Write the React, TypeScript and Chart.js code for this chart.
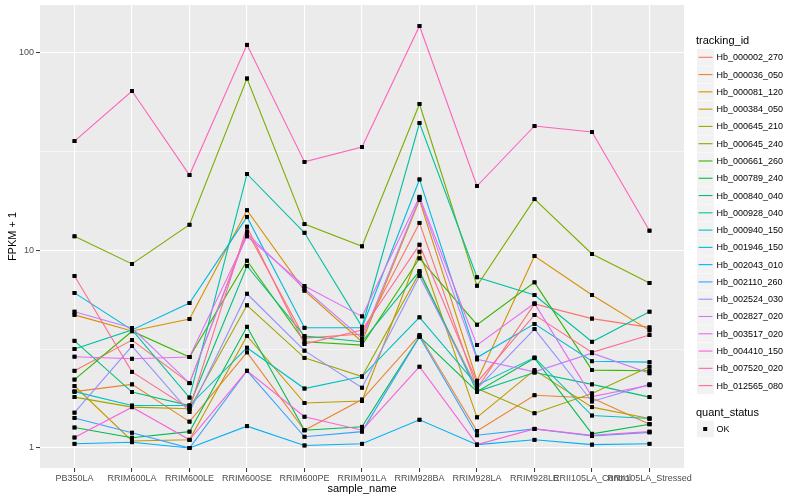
import React, { useEffect, useRef } from "react";
import { Chart, registerables } from "chart.js";
Chart.register(...registerables);

const categories = [
  "PB350LA", "RRIM600LA", "RRIM600LE", "RRIM600SE", "RRIM600PE", "RRIM901LA",
  "RRIM928BA", "RRIM928LA", "RRIM928LE", "RRII105LA_Control", "RRII105LA_Stressed",
];

const seriesNames = [
  "Hb_000002_270", "Hb_000036_050", "Hb_000081_120", "Hb_000384_050", "Hb_000645_210",
  "Hb_000645_240", "Hb_000661_260", "Hb_000789_240", "Hb_000840_040", "Hb_000928_040",
  "Hb_000940_150", "Hb_001946_150", "Hb_002043_010", "Hb_002110_260", "Hb_002524_030",
  "Hb_002827_020", "Hb_003517_020", "Hb_004410_150", "Hb_007520_020", "Hb_012565_080",
];

const seriesColors = [
  "#F8766D", "#EA8331", "#D89000", "#C09B00", "#A3A500",
  "#7CAE00", "#39B600", "#00BB4E", "#00BF7D", "#00C1A3",
  "#00BFC4", "#00BAE0", "#00B0F6", "#35A2FF", "#9590FF",
  "#C77CFF", "#E76BF3", "#FA62DB", "#FF62BC", "#FF6C91",
];

const hb000002_270 = [2.46, 3.52, 2.13, 12.5, 3.6, 3.78, 13.8, 2.0, 5.36, 4.52, 4.08];
const hb000036_050 = [1.93, 2.1, 1.36, 3.05, 1.23, 1.76, 3.73, 1.22, 1.85, 1.79, 1.32];
const hb000081_120 = [4.72, 3.91, 4.5, 16.0, 6.26, 3.45, 18.0, 2.19, 9.38, 5.95, 3.94];
const hb000384_050 = [2.06, 1.085, 1.1, 3.69, 1.69, 1.73, 9.86, 1.43, 2.48, 1.61, 1.41];
const hb000645_210 = [1.81, 1.61, 1.58, 5.28, 2.86, 2.3, 7.72, 2.0, 1.5, 1.89, 2.58];
const hb000645_240 = [11.8, 8.55, 13.5, 74.3, 13.6, 10.5, 55.2, 6.63, 18.2, 9.6, 6.85];
const hb000661_260 = [2.22, 3.9, 2.89, 8.88, 3.45, 3.32, 9.13, 4.21, 6.9, 2.48, 2.46];
const hb000789_240 = [1.27, 1.127, 1.21, 4.11, 1.23, 1.28, 3.66, 1.93, 2.85, 1.18, 1.32];
const hb000840_040 = [3.49, 1.92, 1.64, 8.35, 3.69, 3.45, 7.87, 1.93, 2.41, 2.1, 1.81];
const hb000928_040 = [3.17, 3.96, 1.8, 24.4, 12.3, 4.11, 44.2, 7.32, 5.95, 3.45, 4.9];
const hb000940_150 = [1.93, 1.64, 1.64, 3.22, 2.0, 2.3, 4.59, 2.08, 2.87, 1.46, 1.41];
const hb001946_150 = [6.1, 3.96, 5.42, 14.8, 4.06, 4.06, 22.9, 2.87, 4.25, 2.75, 2.72];
const hb002043_010 = [1.05, 1.07, 1.0, 1.29, 1.03, 1.05, 1.39, 1.04, 1.1, 1.04, 1.05];
const hb002110_260 = [1.42, 1.195, 1.0, 2.46, 1.14, 1.21, 3.66, 1.16, 1.25, 1.15, 1.2];
const hb002524_030 = [1.51, 3.28, 1.52, 6.04, 3.11, 2.02, 7.43, 2.0, 4.0, 1.72, 2.1];
const hb002827_020 = [4.9, 4.05, 2.13, 12.2, 6.4, 3.59, 18.4, 2.81, 2.43, 3.02, 2.39];
const hb003517_020 = [2.9, 2.83, 2.89, 11.8, 6.61, 4.64, 18.7, 3.32, 5.4, 1.82, 2.08];
const hb004410_150 = [1.13, 1.61, 1.1, 2.46, 1.44, 1.23, 2.58, 1.04, 1.25, 1.16, 1.21];
const hb007520_020 = [35.8, 64.2, 24.1, 110, 28.1, 33.4, 137, 21.2, 42.7, 39.8, 12.6];
const hb012565_080 = [7.43, 2.43, 1.58, 13.2, 3.36, 3.96, 10.7, 2.15, 4.72, 3.05, 3.73];

const seriesValues = [
  hb000002_270, hb000036_050, hb000081_120, hb000384_050, hb000645_210,
  hb000645_240, hb000661_260, hb000789_240, hb000840_040, hb000928_040,
  hb000940_150, hb001946_150, hb002043_010, hb002110_260, hb002524_030,
  hb002827_020, hb003517_020, hb004410_150, hb007520_020, hb012565_080,
];

const yTickValues = [1, 3.1623, 10, 31.623, 100];
const yTickLabels = ["1", "", "10", "", "100"];
const statusLabels = ["OK"];

const FONT = "'Liberation Sans', Arial, Helvetica, sans-serif";

export default function App() {
  const ref = useRef<HTMLCanvasElement>(null);

  useEffect(() => {
    const canvas = ref.current;
    if (!canvas) return;

    const datasets = seriesNames.map((name, i) => ({
      label: name,
      data: seriesValues[i].map((v, j) => ({ x: j, y: v })),
      borderColor: seriesColors[i],
      backgroundColor: "#000000",
      pointBackgroundColor: "#000000",
      pointBorderColor: "#000000",
      pointBorderWidth: 0,
      pointRadius: 2.7,
      pointStyle: "rect" as const,
      borderWidth: 1.1,
      tension: 0,
      fill: false,
      order: seriesNames.length - i,
    }));

    const decor = {
      id: "decor",
      beforeDraw(chart: any) {
        const { ctx, chartArea: a } = chart;
        ctx.save();
        ctx.fillStyle = "#FFFFFF";
        ctx.fillRect(0, 0, chart.width, chart.height);
        ctx.fillStyle = "#EBEBEB";
        ctx.fillRect(a.left, a.top, a.right - a.left, a.bottom - a.top);
        ctx.restore();
      },
      afterDatasetsDraw(chart: any) {
        const ctx = chart.ctx;
        ctx.save();
        chart.getSortedVisibleDatasetMetas().forEach((meta: any) => {
          meta.data.forEach((el: any) => el.draw(ctx, chart.chartArea));
        });
        ctx.restore();
      },
      afterDraw(chart: any) {
        const { ctx, chartArea: a } = chart;
        ctx.save();
        ctx.fillStyle = "#000000";
        ctx.font = `11px ${FONT}`;
        ctx.textAlign = "center";
        ctx.textBaseline = "middle";
        ctx.fillText("sample_name", (a.left + a.right) / 2, 489);
        ctx.save();
        ctx.translate(13, (a.top + a.bottom) / 2);
        ctx.rotate(-Math.PI / 2);
        ctx.fillText("FPKM + 1", 0, 0);
        ctx.restore();

        ctx.textAlign = "left";
        ctx.font = `11px ${FONT}`;
        ctx.fillText("tracking_id", 696, 40.5);
        ctx.font = `9px ${FONT}`;
        seriesNames.forEach((name, i) => {
          const cy = 57.3 + i * 17.28;
          ctx.fillStyle = "#F2F2F2";
          ctx.fillRect(697, cy - 8.4, 17, 16.8);
          ctx.strokeStyle = seriesColors[i];
          ctx.lineWidth = 1.1;
          ctx.beginPath();
          ctx.moveTo(698.5, cy);
          ctx.lineTo(712.5, cy);
          ctx.stroke();
          ctx.fillStyle = "#000000";
          ctx.fillText(name, 716.5, cy + 0.5);
        });

        ctx.font = `11px ${FONT}`;
        ctx.fillText("quant_status", 696, 412.7);
        statusLabels.forEach((lab, i) => {
          const cy = 429 + i * 17.28;
          ctx.fillStyle = "#F2F2F2";
          ctx.fillRect(697, cy - 8.4, 17, 16.8);
          ctx.fillStyle = "#000000";
          ctx.fillRect(703.2, cy - 2, 4, 4);
          ctx.font = `9px ${FONT}`;
          ctx.fillText(lab, 716.5, cy + 0.5);
        });
        ctx.restore();
      },
    };

    const chart = new Chart(canvas, {
      type: "line",
      data: { datasets },
      plugins: [decor],
      options: {
        animation: false,
        responsive: false,
        maintainAspectRatio: false,
        parsing: false as any,
        layout: { padding: { left: 0, right: 116, top: 5, bottom: 0 } },
        plugins: {
          legend: { display: false },
          tooltip: { enabled: false },
        },
        scales: {
          x: {
            type: "linear",
            min: -0.6,
            max: 10.6,
            afterBuildTicks: (s: any) => {
              s.ticks = categories.map((_, i) => ({ value: i }));
            },
            afterFit: (s: any) => {
              s.height = 32;
              s.paddingLeft = 0;
              s.paddingRight = 0;
            },
            ticks: {
              callback: (v: any) => categories[v as number] ?? "",
              autoSkip: false,
              maxRotation: 0,
              minRotation: 0,
              font: { family: FONT, size: 9 },
              color: "#4D4D4D",
              padding: 1,
            },
            grid: {
              color: "#FFFFFF",
              lineWidth: 1.1,
              tickColor: "#333333",
              tickLength: 4,
              tickWidth: 1,
            },
            border: { display: false },
          },
          y: {
            type: "logarithmic",
            min: 0.792,
            max: 175,
            afterBuildTicks: (s: any) => {
              s.ticks = yTickValues.map((v) => ({ value: v }));
            },
            afterFit: (s: any) => {
              s.width = 40;
              s.paddingTop = 0;
              s.paddingBottom = 0;
            },
            ticks: {
              callback: (_v: any, i: number) => yTickLabels[i],
              autoSkip: false,
              font: { family: FONT, size: 9 },
              color: "#4D4D4D",
              padding: 2,
            },
            grid: {
              color: "#FFFFFF",
              lineWidth: (c: any) => (yTickLabels[c.index] ? 1.1 : 0.55),
              tickColor: (c: any) => (yTickLabels[c.index] ? "#333333" : "rgba(0,0,0,0)"),
              tickLength: 4,
              tickWidth: 1,
            },
            border: { display: false },
          },
        },
      } as any,
    });

    return () => chart.destroy();
  }, []);

  return (
    <div style={{ position: "fixed", left: 0, top: 0, width: 800, height: 500, background: "#fff" }}>
      <canvas ref={ref} width={800} height={500} style={{ width: 800, height: 500, display: "block" }} />
    </div>
  );
}
